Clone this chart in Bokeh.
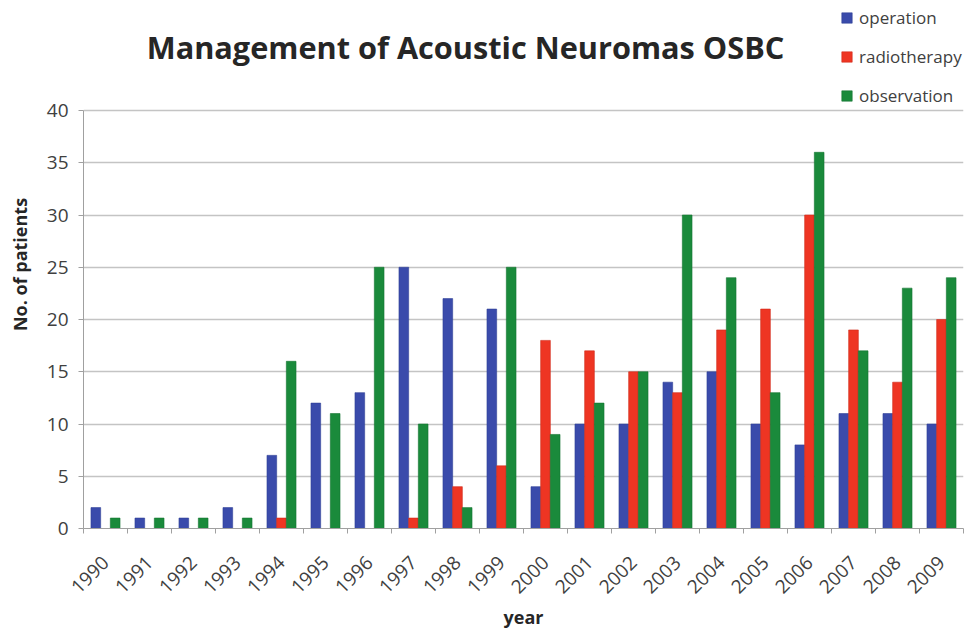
from bokeh.plotting import figure
from bokeh.models import (Range1d, LinearAxis, FixedTicker, Legend, LegendItem,
                          ColumnDataSource, Label)
from bokeh.transform import dodge
from bokeh.embed import file_html
from bokeh.resources import INLINE

years = ["1990", "1991", "1992", "1993", "1994", "1995", "1996", "1997", "1998", "1999",
         "2000", "2001", "2002", "2003", "2004", "2005", "2006", "2007", "2008", "2009"]
operation = [2, 1, 1, 2, 7, 12, 13, 25, 22, 21, 4, 10, 10, 14, 15, 10, 8, 11, 11, 10]
radiotherapy = [0, 0, 0, 0, 1, 0, 0, 1, 4, 6, 18, 17, 15, 13, 19, 21, 30, 19, 14, 20]
observation = [1, 1, 1, 1, 16, 11, 25, 10, 2, 25, 9, 12, 15, 30, 24, 13, 36, 17, 23, 24]
y_ticks = [0, 5, 10, 15, 20, 25, 30, 35, 40]
y_max = 40

title_text = "Management of Acoustic Neuromas OSBC"
series = ["operation", "radiotherapy", "observation"]
colors = ["#3a4bab", "#ee3523", "#1a8a3b"]
edge = ["#2f3f95", "#d02a1a", "#147330"]

FONT = "Open Sans"
TXT = "#404040"
DARK = "#262626"

# layout (pixels)
W, H = 970, 637
LEFT, RIGHT, BOTTOM = 83, 7, 109
PLOT_TOP = 110          # where y = 40 sits; the frame itself reaches the top so the
                        # legend in the corner is not clipped
frame_h = H - BOTTOM
y_top = y_max * frame_h / (frame_h - PLOT_TOP)

n = len(years)
centers = [i + 0.5 for i in range(n)]          # category slot centres on the axis scale
bounds = list(range(n + 1))                     # category slot boundaries
src = ColumnDataSource(dict(pos=centers, year=years, operation=operation,
                            radiotherapy=radiotherapy, observation=observation))

p = figure(width=W, height=H, x_range=Range1d(0, n),
           y_range=Range1d(0, y_top), output_backend="svg", toolbar_location=None,
           x_axis_location=None, title_location=None,
           min_border_left=LEFT, min_border_right=RIGHT,
           min_border_top=0, min_border_bottom=BOTTOM)

p.outline_line_color = None
p.background_fill_color = "white"
p.border_fill_color = "white"

# bars
bw = 0.22
offsets = [-bw, 0.0, bw]
items = []
for name, c, e, off in zip(series, colors, edge, offsets):
    r = p.vbar(x=dodge("pos", off), top=name, width=bw, bottom=0,
               source=src, fill_color=c, line_color=e, line_width=0.6)
    items.append(LegendItem(label=name, renderers=[r]))

# grids
p.xgrid.visible = False
p.ygrid.grid_line_color = "#c4c4c4"
p.ygrid.grid_line_width = 1.4
p.ygrid.ticker = FixedTicker(ticks=y_ticks)

# y axis
ya = p.yaxis[0]
ya.ticker = FixedTicker(ticks=y_ticks)
ya.bounds = (0, y_max)
ya.axis_line_color = "#a0a0a0"
ya.major_tick_line_color = "#a0a0a0"
ya.major_tick_out = 5
ya.major_tick_in = 0
ya.minor_tick_line_color = None
ya.major_label_text_font = FONT
ya.major_label_text_font_size = "19px"
ya.major_label_text_color = TXT
ya.major_label_standoff = 10
ya.axis_label = "No. of patients"
ya.axis_label_text_font = FONT
ya.axis_label_text_font_style = "bold"
ya.axis_label_text_font_size = "18px"
ya.axis_label_text_color = DARK
ya.axis_label_standoff = 12

# x axis: year labels at slot centres, Excel-style ticks at slot boundaries
xa = LinearAxis(ticker=FixedTicker(ticks=centers, minor_ticks=bounds),
                major_label_overrides={c: y for c, y in zip(centers, years)},
                axis_line_color="#a0a0a0", major_tick_line_color=None,
                major_tick_out=5, major_tick_in=0,
                minor_tick_line_color="#a0a0a0", minor_tick_out=5, minor_tick_in=0,
                major_label_orientation=0.785398,
                major_label_text_font=FONT, major_label_text_font_size="19px",
                major_label_text_color=TXT, major_label_standoff=26,
                axis_label="year", axis_label_text_font=FONT,
                axis_label_text_font_style="bold", axis_label_text_font_size="18px",
                axis_label_text_color=DARK, axis_label_standoff=3)
p.add_layout(xa, "below")

# chart title (drawn in the frame's top band, next to the legend)
title = Label(text=title_text, x=465 - LEFT, y=frame_h - 46,
              x_units="screen", y_units="screen",
              text_align="center", text_baseline="alphabetic",
              text_font=FONT, text_font_style="bold", text_font_size="30.7px",
              text_color=DARK)
p.add_layout(title)

# legend in the upper-right corner
legend = Legend(items=items, location=(757, frame_h - 6 - 101), orientation="vertical",
                padding=0, margin=0, spacing=16, glyph_width=13, glyph_height=13,
                label_height=23, label_standoff=6,
                label_text_font=FONT, label_text_font_size="17px", label_text_color=TXT,
                border_line_color=None, background_fill_alpha=0)
p.add_layout(legend)

open("out.html", "w").write(file_html(p, INLINE))
